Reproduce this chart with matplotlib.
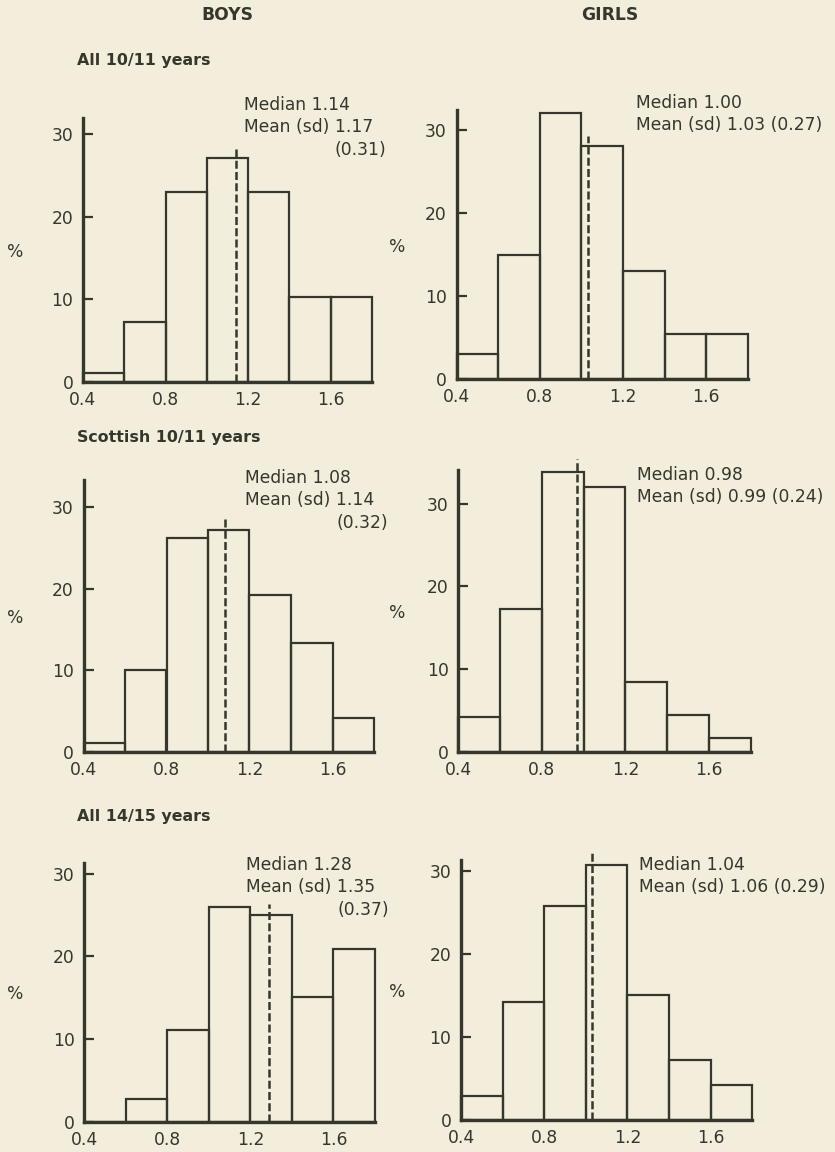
import numpy as np
import matplotlib
matplotlib.use("Agg")
from matplotlib import pyplot as plt

plt.rcParams['font.family'] = ['DejaVu Sans']

# bins and percentages read from the scanned page
bin_edges = [0.4, 0.6, 0.8, 1.0, 1.2, 1.4, 1.6, 1.8]

boys_all_10 = [1.0, 7.2, 23.0, 27.2, 23.0, 10.3, 10.3]
girls_all_10 = [3.1, 15.0, 32.0, 28.1, 13.0, 5.5, 5.5]
boys_scot_10 = [1.1, 10.0, 26.2, 27.2, 19.2, 13.3, 4.1]
girls_scot_10 = [4.2, 17.3, 33.9, 32.1, 8.4, 4.4, 1.6]
boys_all_14 = [0.0, 2.8, 11.1, 26.0, 25.0, 15.1, 20.9]
girls_all_14 = [2.9, 14.2, 25.8, 30.7, 15.1, 7.2, 4.2]

# dashed line: where it sits and how high it goes
line_at = [1.14, 1.03, 1.08, 0.97, 1.29, 1.03]
line_top = [28.6, 29.3, 28.7, 35.4, 26.3, 32.3]

medians = ["1.14", "1.00", "1.08", "0.98", "1.28", "1.04"]
means = ["1.17", "1.03", "1.14", "0.99", "1.35", "1.06"]
sds = ["0.31", "0.27", "0.32", "0.24", "0.37", "0.29"]

group_titles = ["All 10/11 years", "Scottish 10/11 years", "All 14/15 years"]
yticks = [0, 10, 20, 30]
xticks = [0.4, 0.8, 1.2, 1.6]

series = [boys_all_10, girls_all_10, boys_scot_10, girls_scot_10,
          boys_all_14, girls_all_14]

W, H = 835, 1152
bg = '#f3eedc'
ink = '#35362c'
fs = 12.3

fig = plt.figure(figsize=(W / 100, H / 100), dpi=100, facecolor=bg)


def fx(px):
    return px / W


def fy(py):
    return 1 - py / H


# axes boxes in pixels: x of 0.4, x of 1.8, y of 0, y of top, top value
boxes = [
    (83.0, 372.0, 381.7, 118.0, 32.0),
    (456.7, 747.8, 379.3, 110.0, 32.4),
    (83.5, 374.0, 751.7, 480.0, 33.3),
    (458.3, 750.7, 751.7, 470.0, 34.1),
    (84.3, 375.0, 1121.7, 863.0, 31.3),
    (461.0, 752.3, 1120.0, 860.0, 31.3),
]

# text anchor positions in pixels (left x, median line y)
text_pos = [
    (244, 105), (636, 103),
    (245, 478), (637, 475),
    (246, 865), (639, 865),
]

lefts = np.array(bin_edges[:-1])
widths = np.diff(bin_edges)

for i, (vals, box) in enumerate(zip(series, boxes)):
    x0, x1, y0, y1, ymax = box
    ax = fig.add_axes([fx(x0), fy(y0), fx(x1 - x0), (y0 - y1) / H])
    ax.set_facecolor('none')
    ax.bar(lefts, vals, width=widths, align='edge', facecolor='none',
           edgecolor=ink, linewidth=1.6, clip_on=False)
    ax.plot([line_at[i], line_at[i]], [0, line_top[i]], color=ink,
            linewidth=1.8, linestyle=(0, (3.2, 1.3)), clip_on=False)
    ax.set_xlim(0.4, 1.8)
    ax.set_ylim(0, ymax)
    for s in ['top', 'right']:
        ax.spines[s].set_visible(False)
    for s in ['left', 'bottom']:
        ax.spines[s].set_linewidth(2.4)
        ax.spines[s].set_color(ink)
    ax.set_yticks(yticks)
    ax.set_xticks(xticks)
    ax.set_xticklabels(['0.4', '0.8', '1.2', '1.6'])
    ax.tick_params(axis='y', direction='in', length=7, width=1.6,
                   color=ink, labelcolor=ink, labelsize=fs, pad=7)
    ax.tick_params(axis='x', length=0, labelcolor=ink, labelsize=fs, pad=6.5)

    tx, ty = text_pos[i]
    fig.text(fx(tx), fy(ty), "Median " + medians[i], color=ink,
             fontsize=fs, va='center', ha='left')
    if i % 2 == 0:
        fig.text(fx(tx), fy(ty + 22), "Mean (sd) " + means[i], color=ink,
                 fontsize=fs, va='center', ha='left')
        fig.text(fx(x1 + 14), fy(ty + 45), "(" + sds[i] + ")", color=ink,
                 fontsize=fs, va='center', ha='right')
    else:
        fig.text(fx(tx), fy(ty + 22),
                 "Mean (sd) " + means[i] + " (" + sds[i] + ")", color=ink,
                 fontsize=fs, va='center', ha='left')

    # % labels
    side_x = 15 if i % 2 == 0 else 397
    fig.text(fx(side_x), fy((y0 + y1) / 2 + 2), "%", color=ink, fontsize=fs,
             ha='center', va='center')

fig.text(fx(227), fy(15), "BOYS", color=ink, fontsize=12.3,
         fontweight='bold', ha='center', va='center')
fig.text(fx(610), fy(15), "GIRLS", color=ink, fontsize=12.3,
         fontweight='bold', ha='center', va='center')

for t, yy in zip(group_titles, [60, 438, 817]):
    fig.text(fx(77), fy(yy), t, color=ink, fontsize=11.4, fontweight='bold',
             ha='left', va='center')

fig.savefig('out.png', dpi=100, facecolor=bg)
